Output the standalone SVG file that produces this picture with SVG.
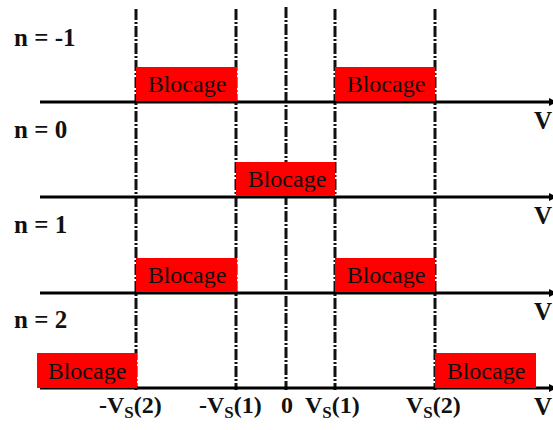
<svg xmlns="http://www.w3.org/2000/svg" width="553" height="430" viewBox="0 0 553 430">
<style>
.ax{stroke:#000;stroke-width:3;fill:none}
.vl{stroke:#111;stroke-width:3;stroke-dasharray:11 2 2 2;fill:none}
.box{fill:#ff0000}
.bt{font-family:"Liberation Serif",serif;font-size:24px;fill:#111;text-anchor:middle}
.lb{font-family:"Liberation Serif",serif;font-size:25px;font-weight:bold;fill:#111}
.xl{font-family:"Liberation Serif",serif;font-size:24px;font-weight:bold;fill:#111}
.vv{font-family:"Liberation Serif",serif;font-size:25px;font-weight:bold;fill:#111;text-anchor:end}
.sub{font-size:17px}
</style>
<defs>
<marker id="ah" markerWidth="8" markerHeight="8" refX="6" refY="4" orient="auto" markerUnits="userSpaceOnUse">
<path d="M0,0 L8,4 L0,8 Z" fill="#000"/>
</marker>
</defs>
<rect width="553" height="430" fill="#fff"/>
<g id="connectors">
<line class="vl" x1="136" y1="9" x2="136" y2="390"/>
<line class="vl" x1="236" y1="9" x2="236" y2="390"/>
<line class="vl" x1="286" y1="7" x2="286" y2="390"/>
<line class="vl" x1="335" y1="9" x2="335" y2="390"/>
<line class="vl" x1="435" y1="9" x2="435" y2="390"/>
<line class="ax" x1="40" y1="102" x2="555" y2="102" marker-end="url(#ah)"/>
<line class="ax" x1="40" y1="197" x2="555" y2="197" marker-end="url(#ah)"/>
<line class="ax" x1="40" y1="293" x2="555" y2="293" marker-end="url(#ah)"/>
<line class="ax" x1="40" y1="388" x2="555" y2="388" marker-end="url(#ah)"/>
</g>
<g id="b1"><rect class="box" x="136" y="67" width="101" height="34"/><text class="bt" x="187" y="92">Blocage</text></g>
<g id="b2"><rect class="box" x="335" y="67" width="100" height="34"/><text class="bt" x="386" y="92">Blocage</text></g>
<g id="b3"><rect class="box" x="236" y="162" width="99" height="34"/><text class="bt" x="287" y="187">Blocage</text></g>
<g id="b4"><rect class="box" x="136" y="258" width="101" height="34"/><text class="bt" x="187" y="283">Blocage</text></g>
<g id="b5"><rect class="box" x="335" y="258" width="100" height="34"/><text class="bt" x="386" y="283">Blocage</text></g>
<g id="b6"><rect class="box" x="37" y="353" width="100" height="35"/><text class="bt" x="87" y="379">Blocage</text></g>
<g id="b7"><rect class="box" x="435" y="353" width="101" height="35"/><text class="bt" x="486" y="379">Blocage</text></g>
<g id="nlabels">
<text class="lb" x="14" y="46">n = -1</text>
<text class="lb" x="14" y="138">n = 0</text>
<text class="lb" x="14" y="233">n = 1</text>
<text class="lb" x="14" y="328">n = 2</text>
</g>
<g id="vlabels">
<text class="vv" x="552" y="129">V</text>
<text class="vv" x="552" y="224">V</text>
<text class="vv" x="552" y="320">V</text>
<text class="vv" x="552" y="415">V</text>
</g>
<g id="xlabels">
<text class="xl" x="99" y="413">-V<tspan class="sub" dy="5">S</tspan><tspan dy="-5">(2)</tspan></text>
<text class="xl" x="199" y="413">-V<tspan class="sub" dy="5">S</tspan><tspan dy="-5">(1)</tspan></text>
<text class="xl" x="281" y="413">0</text>
<text class="xl" x="305" y="413">V<tspan class="sub" dy="5">S</tspan><tspan dy="-5">(1)</tspan></text>
<text class="xl" x="406" y="413">V<tspan class="sub" dy="5">S</tspan><tspan dy="-5">(2)</tspan></text>
</g>
</svg>
